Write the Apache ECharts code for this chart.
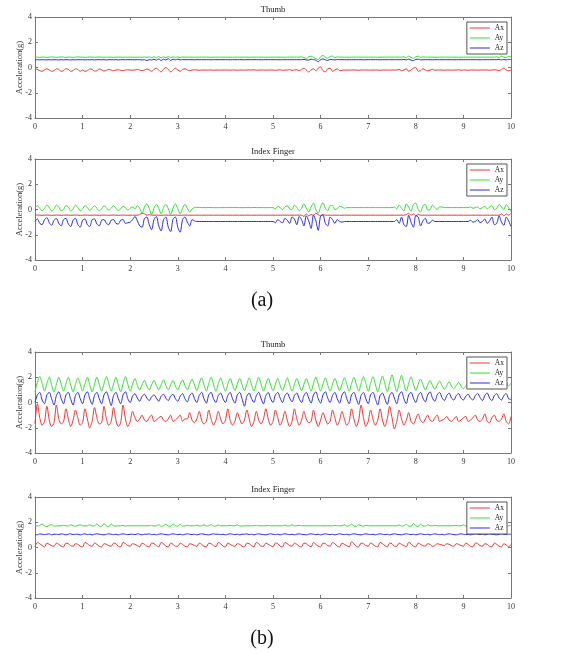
<!DOCTYPE html>
<html>
<head>
<meta charset="utf-8">
<script src="https://cdn.jsdelivr.net/npm/echarts@6/dist/echarts.min.js"></script>
<style>
  html, body { margin: 0; padding: 0; background: #fff; }
  #main { width: 577px; height: 654px; }
</style>
</head>
<body>
<div id="main"></div>
<script>
// sampling step of the recordings (s)
var step = 0.05;
var names = ['Ax', 'Ay', 'Az'];
var panelTitles = ['Thumb', 'Index Finger', 'Thumb', 'Index Finger'];
var figLabels = ['(a)', '(b)'];
var yTicks = [-4, 4, 2];   // min, max, interval
var xTicks = [0, 10, 1];

// (a) thumb
var aThumbAx = [
  -0.1,-0.15,-0.25,-0.3,-0.2,-0.1,-0.2,-0.3,-0.25,-0.1,-0.15,-0.3,-0.25,-0.1,-0.15,-0.3,-0.25,-0.1,-0.15,-0.3,
  -0.2,-0.3,-0.25,-0.12,-0.15,-0.28,-0.25,-0.12,-0.18,-0.28,-0.22,-0.15,-0.2,-0.25,-0.2,-0.18,-0.22,-0.25,-0.2,-0.18,
  -0.2,-0.22,-0.2,-0.15,-0.2,-0.25,-0.2,-0.12,-0.2,-0.3,-0.15,-0.05,-0.2,-0.35,-0.15,0.0,-0.15,-0.35,-0.2,-0.05,
  -0.2,-0.3,-0.15,-0.1,-0.2,-0.25,-0.2,-0.18,-0.2,-0.22,-0.2,-0.2,-0.21,-0.2,-0.2,-0.22,-0.2,-0.2,-0.21,-0.2,
  -0.2,-0.2,-0.21,-0.2,-0.2,-0.22,-0.2,-0.2,-0.21,-0.2,-0.2,-0.2,-0.18,-0.22,-0.2,-0.2,-0.2,-0.21,-0.2,-0.2,
  -0.2,-0.22,-0.2,-0.18,-0.22,-0.2,-0.2,-0.17,-0.23,-0.2,-0.18,-0.25,-0.15,-0.05,-0.2,-0.35,-0.2,-0.1,-0.25,-0.05,
  0.05,-0.25,-0.35,-0.1,-0.05,-0.3,-0.2,-0.1,-0.25,-0.22,-0.2,-0.2,-0.21,-0.2,-0.2,-0.2,-0.22,-0.2,-0.2,-0.2,
  -0.2,-0.21,-0.2,-0.2,-0.2,-0.22,-0.2,-0.2,-0.2,-0.21,-0.2,-0.2,-0.2,-0.15,-0.25,-0.2,-0.1,-0.3,-0.2,-0.05,
  0.0,-0.3,-0.25,-0.1,-0.2,-0.25,-0.2,-0.15,-0.22,-0.2,-0.2,-0.2,-0.22,-0.2,-0.2,-0.21,-0.2,-0.2,-0.18,-0.22,
  -0.2,-0.2,-0.22,-0.2,-0.2,-0.2,-0.21,-0.2,-0.2,-0.2,-0.2,-0.22,-0.2,-0.18,-0.2,-0.25,-0.15,-0.05,-0.2,-0.25,
  -0.2
];
var aThumbAy = [
  0.85,0.82,0.8,0.83,0.82,0.8,0.82,0.84,0.82,0.8,0.82,0.84,0.82,0.8,0.83,0.82,0.8,0.82,0.84,0.82,
  0.82,0.8,0.82,0.83,0.82,0.81,0.82,0.83,0.82,0.81,0.82,0.82,0.82,0.81,0.82,0.82,0.82,0.81,0.82,0.82,
  0.82,0.82,0.81,0.82,0.82,0.8,0.84,0.8,0.84,0.78,0.85,0.78,0.86,0.76,0.85,0.78,0.86,0.78,0.84,0.8,
  0.84,0.78,0.83,0.82,0.82,0.82,0.82,0.81,0.82,0.82,0.82,0.82,0.82,0.82,0.81,0.82,0.82,0.82,0.82,0.82,
  0.82,0.82,0.82,0.81,0.82,0.82,0.82,0.82,0.82,0.82,0.81,0.82,0.82,0.82,0.82,0.82,0.82,0.81,0.82,0.82,
  0.82,0.82,0.82,0.82,0.82,0.81,0.82,0.82,0.82,0.82,0.82,0.82,0.84,0.78,0.72,0.85,0.9,0.8,0.7,0.62,
  0.85,0.95,0.82,0.72,0.88,0.9,0.78,0.84,0.82,0.82,0.82,0.82,0.81,0.82,0.82,0.82,0.82,0.82,0.82,0.82,
  0.82,0.82,0.82,0.82,0.81,0.82,0.82,0.82,0.82,0.82,0.82,0.82,0.82,0.82,0.82,0.85,0.78,0.9,0.8,0.72,
  0.85,0.9,0.8,0.84,0.82,0.82,0.82,0.82,0.82,0.81,0.82,0.82,0.82,0.82,0.82,0.82,0.82,0.82,0.81,0.82,
  0.82,0.82,0.82,0.82,0.82,0.82,0.82,0.82,0.82,0.82,0.82,0.82,0.82,0.82,0.85,0.78,0.9,0.82,0.78,0.88,
  0.84
];
var aThumbAz = [
  0.6,0.62,0.6,0.62,0.61,0.6,0.62,0.6,0.62,0.61,0.6,0.62,0.6,0.62,0.61,0.6,0.62,0.6,0.62,0.61,
  0.62,0.6,0.62,0.61,0.62,0.6,0.62,0.62,0.61,0.62,0.6,0.62,0.62,0.61,0.62,0.6,0.62,0.62,0.61,0.62,
  0.62,0.62,0.61,0.62,0.62,0.6,0.62,0.55,0.62,0.6,0.65,0.58,0.68,0.55,0.66,0.6,0.7,0.56,0.65,0.6,
  0.66,0.6,0.63,0.62,0.62,0.62,0.62,0.61,0.62,0.62,0.62,0.62,0.62,0.62,0.61,0.62,0.62,0.62,0.62,0.62,
  0.62,0.62,0.61,0.62,0.62,0.62,0.62,0.62,0.61,0.62,0.62,0.62,0.62,0.62,0.62,0.61,0.62,0.62,0.62,0.62,
  0.62,0.62,0.62,0.61,0.62,0.62,0.62,0.62,0.62,0.62,0.62,0.62,0.62,0.64,0.6,0.58,0.66,0.62,0.58,0.45,
  0.62,0.68,0.6,0.56,0.64,0.62,0.6,0.63,0.62,0.62,0.62,0.61,0.62,0.62,0.62,0.62,0.62,0.62,0.61,0.62,
  0.62,0.62,0.62,0.62,0.62,0.61,0.62,0.62,0.62,0.62,0.62,0.62,0.62,0.62,0.62,0.64,0.6,0.66,0.58,0.55,
  0.64,0.66,0.6,0.62,0.62,0.62,0.62,0.61,0.62,0.62,0.62,0.62,0.62,0.62,0.62,0.62,0.61,0.62,0.62,0.62,
  0.62,0.62,0.62,0.62,0.62,0.62,0.62,0.61,0.62,0.62,0.62,0.62,0.62,0.62,0.62,0.64,0.6,0.63,0.6,0.64,
  0.62
];

// (a) index finger
var aIndexAx = [
  -0.45,-0.44,-0.45,-0.46,-0.45,-0.44,-0.45,-0.46,-0.45,-0.44,-0.45,-0.46,-0.45,-0.44,-0.45,-0.46,-0.45,-0.44,-0.45,-0.46,
  -0.45,-0.44,-0.45,-0.46,-0.45,-0.44,-0.45,-0.46,-0.45,-0.44,-0.45,-0.46,-0.45,-0.44,-0.45,-0.46,-0.45,-0.44,-0.45,-0.46,
  -0.45,-0.45,-0.45,-0.45,-0.4,-0.3,-0.35,-0.45,-0.4,-0.45,-0.45,-0.44,-0.45,-0.46,-0.45,-0.44,-0.45,-0.46,-0.45,-0.44,
  -0.45,-0.46,-0.45,-0.44,-0.45,-0.45,-0.45,-0.45,-0.45,-0.45,-0.45,-0.45,-0.45,-0.45,-0.45,-0.45,-0.45,-0.45,-0.45,-0.45,
  -0.45,-0.45,-0.45,-0.45,-0.45,-0.45,-0.45,-0.45,-0.45,-0.45,-0.45,-0.45,-0.45,-0.45,-0.45,-0.45,-0.45,-0.45,-0.45,-0.45,
  -0.45,-0.45,-0.45,-0.45,-0.45,-0.45,-0.45,-0.45,-0.45,-0.45,-0.45,-0.44,-0.45,-0.55,-0.35,-0.5,-0.4,-0.45,-0.3,-0.4,
  -0.5,-0.4,-0.45,-0.45,-0.45,-0.45,-0.45,-0.45,-0.45,-0.45,-0.45,-0.45,-0.45,-0.45,-0.45,-0.45,-0.45,-0.45,-0.45,-0.45,
  -0.45,-0.45,-0.45,-0.45,-0.45,-0.45,-0.45,-0.45,-0.45,-0.45,-0.45,-0.45,-0.45,-0.45,-0.45,-0.45,-0.4,-0.3,-0.45,-0.35,
  -0.5,-0.4,-0.45,-0.45,-0.45,-0.45,-0.45,-0.45,-0.45,-0.45,-0.45,-0.45,-0.45,-0.45,-0.45,-0.45,-0.45,-0.45,-0.45,-0.45,
  -0.45,-0.45,-0.45,-0.45,-0.45,-0.45,-0.45,-0.45,-0.45,-0.45,-0.45,-0.45,-0.45,-0.45,-0.45,-0.45,-0.35,-0.5,-0.35,-0.45,
  -0.3
];
var aIndexAy = [
  0.15,0.3,0.1,-0.1,0.1,0.35,0.15,-0.12,0.05,0.35,0.2,-0.1,0.0,0.3,0.2,-0.12,0.05,0.35,0.15,-0.1,
  0.05,0.3,0.15,-0.08,0.1,0.3,0.1,-0.1,0.05,0.28,0.15,-0.05,0.1,0.3,0.1,-0.08,0.05,0.25,0.15,-0.05,
  0.1,0.2,0.05,0.3,0.1,-0.3,0.2,0.45,0.1,-0.4,0.1,0.4,0.1,-0.35,0.15,0.4,0.05,-0.4,0.1,0.45,
  0.05,-0.35,0.1,0.4,0.1,-0.2,0.05,0.15,0.18,0.15,0.15,0.15,0.15,0.16,0.15,0.15,0.14,0.15,0.15,0.15,
  0.15,0.15,0.15,0.16,0.15,0.15,0.15,0.14,0.15,0.15,0.15,0.15,0.16,0.15,0.15,0.15,0.15,0.14,0.15,0.15,
  0.15,0.05,0.25,0.15,0.0,0.2,0.3,0.05,0.0,0.35,0.15,-0.1,0.1,0.45,0.1,-0.2,0.2,0.5,0.0,-0.3,
  0.2,0.55,0.1,-0.1,0.3,0.3,0.0,0.05,0.25,0.2,0.1,0.15,0.15,0.15,0.15,0.15,0.15,0.15,0.15,0.15,
  0.15,0.15,0.15,0.15,0.15,0.15,0.15,0.15,0.15,0.15,0.15,0.2,0.05,0.35,0.1,-0.1,0.45,0.2,-0.15,0.4,
  0.5,0.0,-0.2,0.3,0.4,-0.05,0.0,0.35,0.15,0.0,0.2,0.2,0.15,0.15,0.15,0.15,0.15,0.15,0.15,0.15,
  0.15,0.15,0.15,0.2,0.1,0.15,0.2,0.05,0.15,0.25,0.05,0.2,0.3,0.0,0.1,0.4,0.2,0.0,0.4,0.15,
  -0.2
];
var aIndexAz = [
  -0.95,-0.75,-1.1,-1.2,-0.8,-0.65,-1.05,-1.25,-0.85,-0.7,-1.1,-1.3,-0.8,-0.7,-1.15,-1.35,-0.85,-0.7,-1.2,-1.4,
  -0.85,-0.75,-1.2,-1.35,-0.8,-0.75,-1.15,-1.3,-0.85,-0.8,-1.1,-1.2,-0.85,-0.8,-1.1,-1.15,-0.85,-0.8,-1.1,-1.05,
  -1.0,-0.8,-0.55,-0.9,-1.3,-1.4,-0.7,-0.6,-1.2,-1.6,-0.8,-0.55,-1.3,-1.7,-0.8,-0.6,-1.4,-1.75,-0.75,-0.6,
  -1.4,-1.8,-0.8,-0.6,-1.0,-1.3,-0.8,-0.9,-0.95,-0.95,-0.95,-0.95,-0.95,-0.95,-0.95,-0.95,-0.95,-0.95,-0.95,-0.95,
  -0.95,-0.95,-0.95,-0.95,-0.95,-0.95,-0.95,-0.95,-0.95,-0.95,-0.95,-0.95,-0.95,-0.95,-0.95,-0.95,-0.95,-0.95,-0.95,-0.95,
  -0.95,-1.05,-0.8,-0.95,-1.05,-0.7,-0.85,-1.1,-0.6,-0.75,-1.2,-0.55,-0.8,-1.3,-0.5,-0.9,-1.5,-0.45,-0.9,-1.65,
  -0.5,-0.45,-1.1,-1.3,-0.6,-0.8,-1.1,-0.8,-0.95,-1.0,-0.95,-0.95,-0.95,-0.95,-0.95,-0.95,-0.95,-0.95,-0.95,-0.95,
  -0.95,-0.95,-0.95,-0.95,-0.95,-0.95,-0.95,-0.95,-0.95,-0.95,-0.95,-0.95,-0.8,-1.1,-0.6,-1.2,-1.35,-0.45,-1.0,-1.4,
  -0.5,-0.6,-1.3,-0.9,-0.7,-1.1,-1.05,-0.85,-0.95,-0.95,-0.95,-0.95,-0.95,-0.95,-0.95,-0.95,-0.95,-0.95,-0.95,-0.95,
  -0.95,-0.95,-0.95,-0.85,-1.0,-0.95,-0.8,-1.05,-0.95,-0.75,-1.1,-0.9,-0.6,-1.2,-1.1,-0.5,-1.0,-1.25,-0.6,-0.9,
  -1.35
];

// (b) thumb
var bThumbAx = [
  -1.7,-0.1,-1.2,-1.8,-1.5,-0.3,-1.4,-1.9,-1.6,-0.2,-1.3,-1.7,-1.5,-0.5,-1.3,-1.9,-1.4,-0.6,-1.2,-1.8,
  -1.6,-0.5,-1.3,-2.0,-1.5,-0.4,-1.2,-1.7,-1.6,-0.3,-1.3,-1.8,-1.5,-0.4,-1.4,-1.9,-1.6,-0.2,-1.3,-1.9,
  -1.5,-0.7,-1.2,-1.5,-1.3,-1.0,-1.4,-1.5,-1.2,-1.0,-1.5,-1.4,-1.2,-1.1,-1.4,-1.5,-1.3,-1.0,-1.5,-1.4,
  -1.2,-1.0,-1.5,-1.3,-1.3,-0.8,-1.4,-1.6,-1.3,-0.7,-1.4,-1.7,-1.5,-0.6,-1.3,-1.8,-1.4,-0.7,-1.3,-1.7,
  -1.4,-0.5,-1.4,-1.8,-1.5,-0.8,-1.3,-1.7,-1.4,-0.6,-1.3,-1.9,-1.5,-0.7,-1.4,-1.7,-1.3,-0.5,-1.3,-1.8,
  -1.5,-0.6,-1.2,-1.8,-1.4,-0.7,-1.4,-1.9,-1.5,-0.5,-1.3,-1.8,-1.4,-0.7,-1.3,-1.6,-1.5,-0.6,-1.4,-1.9,
  -1.4,-0.8,-1.3,-1.7,-1.5,-0.6,-1.2,-1.8,-1.4,-0.7,-1.3,-1.8,-1.5,-0.5,-1.3,-1.9,-1.4,-0.2,-1.2,-1.9,
  -1.5,-0.6,-1.3,-1.8,-1.4,-0.5,-1.4,-1.9,-1.3,-0.3,-1.2,-2.1,-1.5,-0.6,-1.3,-1.8,-1.4,-0.8,-1.5,-1.7,
  -1.3,-0.9,-1.4,-1.6,-1.3,-1.0,-1.4,-1.5,-1.2,-1.0,-1.5,-1.4,-1.3,-1.1,-1.4,-1.5,-1.3,-1.1,-1.5,-1.4,
  -1.2,-1.1,-1.5,-1.4,-1.2,-1.0,-1.4,-1.5,-1.3,-0.9,-1.5,-1.6,-1.2,-1.0,-1.4,-1.5,-1.3,-0.9,-1.5,-1.7,
  -1.1
];
var bThumbAy = [
  0.85,1.6,2.05,1.5,0.9,1.5,2.0,1.4,0.85,1.45,2.0,1.45,0.9,1.5,2.0,1.4,0.85,1.45,1.95,1.45,
  0.9,1.5,2.0,1.4,0.85,1.45,2.0,1.45,0.9,1.5,2.05,1.5,0.9,1.45,2.0,1.4,0.85,1.5,2.05,1.45,
  0.9,1.45,1.9,1.35,1.0,1.4,1.75,1.3,1.0,1.4,1.75,1.35,1.0,1.4,1.8,1.35,1.0,1.4,1.75,1.3,
  1.0,1.45,1.8,1.35,1.0,1.45,1.85,1.4,0.95,1.5,1.95,1.4,0.9,1.5,2.0,1.45,0.9,1.45,1.95,1.4,
  0.9,1.45,1.9,1.4,0.95,1.45,1.9,1.4,0.95,1.45,1.95,1.4,0.9,1.5,2.0,1.45,0.9,1.45,1.9,1.4,
  0.95,1.45,1.9,1.35,0.95,1.45,1.95,1.4,0.9,1.45,1.9,1.4,0.95,1.45,1.9,1.4,0.9,1.5,2.0,1.45,
  0.9,1.45,1.95,1.4,0.9,1.45,1.9,1.4,0.95,1.45,1.95,1.45,0.9,1.5,2.0,1.45,0.9,1.5,2.05,1.5,
  0.9,1.5,2.05,1.45,0.85,1.5,2.1,1.5,0.85,1.55,2.2,1.5,0.85,1.55,2.15,1.5,0.9,1.5,2.05,1.45,
  0.95,1.45,1.85,1.4,1.0,1.4,1.75,1.35,1.05,1.4,1.7,1.35,1.05,1.35,1.65,1.3,1.1,1.35,1.6,1.3,
  1.1,1.3,1.5,1.3,1.15,1.35,1.6,1.3,1.1,1.4,1.7,1.35,1.05,1.4,1.75,1.35,1.05,1.4,1.6,1.3,
  1.55
];
var bThumbAz = [
  0.0,0.6,0.8,0.2,-0.1,0.6,0.8,0.3,-0.2,0.55,0.85,0.3,-0.1,0.6,0.8,0.25,-0.2,0.55,0.8,0.3,
  -0.1,0.6,0.85,0.3,-0.15,0.55,0.8,0.3,-0.1,0.6,0.85,0.35,-0.25,0.55,0.8,0.3,-0.1,0.6,0.85,0.3,
  0.0,0.5,0.7,0.35,0.1,0.5,0.65,0.35,0.15,0.45,0.6,0.35,0.1,0.5,0.65,0.35,0.15,0.5,0.65,0.3,
  0.1,0.5,0.7,0.3,0.05,0.55,0.75,0.3,0.0,0.55,0.8,0.3,-0.05,0.6,0.8,0.3,0.0,0.55,0.75,0.3,
  0.0,0.55,0.8,0.3,-0.05,0.6,0.8,0.3,-0.3,0.5,0.75,0.3,0.0,0.55,0.8,0.3,-0.1,0.55,0.8,0.3,
  0.0,0.6,0.8,0.35,0.0,0.55,0.75,0.35,0.05,0.55,0.75,0.3,0.0,0.55,0.8,0.35,-0.05,0.6,0.85,0.3,
  -0.05,0.6,0.85,0.35,0.0,0.55,0.8,0.3,-0.05,0.6,0.85,0.3,-0.1,0.6,0.8,0.3,-0.15,0.55,0.8,0.3,
  -0.1,0.6,0.8,0.3,-0.2,0.55,0.75,0.3,-0.15,0.55,0.8,0.35,-0.1,0.6,0.85,0.3,-0.1,0.6,0.8,0.35,
  0.0,0.55,0.8,0.35,0.05,0.6,0.85,0.35,0.1,0.6,0.8,0.4,0.15,0.55,0.75,0.35,0.2,0.55,0.7,0.35,
  0.2,0.5,0.65,0.35,0.2,0.55,0.7,0.4,0.15,0.55,0.75,0.35,0.15,0.55,0.7,0.35,0.2,0.55,0.7,0.3,
  0.25
];

// (b) index finger
var bIndexAx = [
  0.05,0.4,0.3,0.15,0.05,0.35,0.25,0.15,0.1,0.35,0.25,0.1,0.05,0.35,0.3,0.15,0.1,0.3,0.25,0.1,
  0.05,0.4,0.3,0.15,0.1,0.35,0.25,0.1,0.05,0.3,0.25,0.15,0.1,0.35,0.3,0.1,0.05,0.4,0.3,0.15,
  0.1,0.3,0.25,0.15,0.05,0.35,0.25,0.1,0.05,0.35,0.3,0.15,0.05,0.4,0.3,0.1,0.05,0.35,0.25,0.1,
  0.1,0.35,0.25,0.1,0.05,0.3,0.25,0.15,0.1,0.35,0.25,0.1,0.05,0.35,0.3,0.15,0.05,0.4,0.3,0.1,
  0.05,0.35,0.25,0.15,0.1,0.3,0.25,0.1,0.05,0.35,0.3,0.15,0.05,0.4,0.3,0.1,0.1,0.35,0.25,0.15,
  0.05,0.35,0.3,0.1,0.05,0.4,0.3,0.15,0.1,0.35,0.25,0.1,0.05,0.35,0.3,0.15,0.05,0.4,0.25,0.1,
  0.05,0.35,0.3,0.15,0.1,0.4,0.3,0.1,0.05,0.35,0.25,0.15,0.05,0.45,0.3,0.1,0.05,0.35,0.3,0.15,
  0.1,0.35,0.25,0.1,0.05,0.4,0.3,0.15,0.05,0.35,0.3,0.1,0.1,0.35,0.25,0.15,0.05,0.4,0.3,0.1,
  0.05,0.35,0.25,0.15,0.1,0.3,0.25,0.1,0.15,0.3,0.25,0.2,0.15,0.3,0.25,0.15,0.1,0.3,0.25,0.15,
  0.1,0.35,0.25,0.1,0.05,0.35,0.3,0.15,0.1,0.3,0.25,0.1,0.05,0.35,0.25,0.1,0.05,0.3,0.2,0.05,
  0.25
];
var bIndexAy = [
  1.75,1.7,1.75,1.85,1.72,1.65,1.75,1.82,1.7,1.7,1.72,1.72,1.75,1.72,1.7,1.8,1.72,1.68,1.75,1.8,
  1.72,1.72,1.72,1.8,1.7,1.72,1.85,1.7,1.68,1.9,1.72,1.66,1.85,1.72,1.7,1.72,1.72,1.75,1.7,1.72,
  1.72,1.72,1.72,1.72,1.72,1.72,1.72,1.72,1.72,1.75,1.7,1.72,1.8,1.68,1.72,1.85,1.7,1.68,1.88,1.72,
  1.68,1.85,1.7,1.7,1.75,1.72,1.72,1.72,1.78,1.7,1.72,1.8,1.7,1.72,1.82,1.7,1.7,1.78,1.72,1.72,
  1.72,1.72,1.75,1.72,1.72,1.8,1.7,1.7,1.72,1.72,1.72,1.72,1.72,1.75,1.72,1.72,1.72,1.72,1.75,1.72,
  1.72,1.72,1.72,1.72,1.72,1.78,1.7,1.72,1.8,1.72,1.72,1.75,1.72,1.72,1.72,1.72,1.72,1.72,1.72,1.72,
  1.72,1.72,1.72,1.72,1.72,1.72,1.75,1.72,1.72,1.72,1.8,1.7,1.72,1.85,1.7,1.68,1.8,1.72,1.7,1.75,
  1.72,1.72,1.72,1.72,1.72,1.72,1.72,1.72,1.72,1.72,1.72,1.72,1.72,1.78,1.7,1.72,1.85,1.7,1.68,1.9,
  1.72,1.66,1.85,1.72,1.7,1.8,1.72,1.72,1.75,1.72,1.72,1.72,1.72,1.72,1.72,1.72,1.72,1.75,1.72,1.72,
  1.8,1.7,1.72,1.72,1.72,1.72,1.72,1.72,1.72,1.72,1.72,1.72,1.72,1.72,1.72,1.72,1.72,1.72,1.72,1.72,
  1.75
];
var bIndexAz = [
  1.05,1.0,1.08,1.05,1.02,1.05,1.08,1.0,1.05,1.05,1.02,1.08,1.05,1.0,1.05,1.08,1.02,1.05,1.05,1.0,
  1.05,1.08,1.02,1.05,1.0,1.05,1.08,1.05,1.02,1.0,1.05,1.08,1.05,1.02,1.05,1.0,1.05,1.08,1.05,1.02,
  1.05,1.05,1.02,1.08,1.05,1.0,1.05,1.05,1.08,1.02,1.05,1.0,1.05,1.08,1.05,1.02,1.0,1.05,1.08,1.05,
  1.02,1.05,1.0,1.05,1.08,1.05,1.02,1.05,1.0,1.05,1.08,1.05,1.02,1.0,1.05,1.08,1.05,1.05,1.02,1.05,
  1.0,1.05,1.08,1.05,1.02,1.05,1.0,1.05,1.05,1.08,1.02,1.05,1.0,1.05,1.08,1.05,1.02,1.0,1.05,1.08,
  1.05,1.02,1.05,1.0,1.05,1.08,1.05,1.02,1.05,1.0,1.05,1.08,1.05,1.02,1.0,1.05,1.08,1.05,1.02,1.05,
  1.0,1.05,1.08,1.05,1.02,1.05,1.0,1.05,1.08,1.05,1.02,1.05,1.0,1.05,1.08,1.05,1.02,1.0,1.05,1.08,
  1.05,1.02,1.05,1.0,1.05,1.08,1.05,1.02,1.05,1.0,1.05,1.08,1.05,1.02,1.0,1.05,1.08,1.05,1.02,1.05,
  1.0,1.05,1.08,1.05,1.02,1.05,1.0,1.05,1.08,1.05,1.02,1.05,1.0,1.05,1.08,1.05,1.02,1.0,1.05,1.08,
  1.05,1.02,1.05,1.0,1.05,1.08,1.05,1.02,1.05,1.0,1.05,1.08,1.05,1.02,1.0,1.05,1.08,1.05,1.02,1.05,
  1.05
];

var panels = [
  [aThumbAx, aThumbAy, aThumbAz],
  [aIndexAx, aIndexAy, aIndexAz],
  [bThumbAx, bThumbAy, bThumbAz],
  [bIndexAx, bIndexAy, bIndexAz]
];

var font = "'Liberation Serif', 'DejaVu Serif', serif";
var colors = ['#ee3434', '#2fe02f', '#2a2ae0'];
var axisColor = '#777';
var gridTops = [17, 159, 352, 497];
var gridH = 101;

function toPoints(vals) {
  return vals.map(function (v, i) {
    return [+(i * step).toFixed(2), v];
  });
}

function makeAxis(extra) {
  var ax = {
    type: 'value',
    axisLine: { show: true, onZero: false, lineStyle: { color: axisColor, width: 1 } },
    axisTick: { show: true, inside: true, length: 3, lineStyle: { color: axisColor } },
    splitLine: { show: false },
    axisLabel: { fontFamily: font, fontSize: 8, color: '#333', margin: 5 }
  };
  for (var k in extra) ax[k] = extra[k];
  return ax;
}

var grids = [], xAxes = [], yAxes = [], series = [], legends = [], titles = [];

panels.forEach(function (p, k) {
  grids.push({ left: 35, right: 66, top: gridTops[k], height: gridH, outerBoundsMode: 'none' });

  xAxes.push(makeAxis({ gridIndex: k, min: xTicks[0], max: xTicks[1], interval: xTicks[2] }));
  xAxes.push(makeAxis({ gridIndex: k, position: 'top', min: xTicks[0], max: xTicks[1], interval: xTicks[2],
    axisLabel: { show: false } }));

  yAxes.push(makeAxis({ gridIndex: k, min: yTicks[0], max: yTicks[1], interval: yTicks[2],
    axisLabel: { fontFamily: font, fontSize: 8, color: '#333', margin: 3 },
    name: 'Acceleration(g)', nameLocation: 'middle', nameGap: 11, nameRotate: 90,
    nameMoveOverlap: false,
    nameTextStyle: { fontFamily: font, fontSize: 8.5, color: '#333' } }));
  yAxes.push(makeAxis({ gridIndex: k, position: 'right', min: yTicks[0], max: yTicks[1], interval: yTicks[2],
    axisLabel: { show: false } }));

  p.forEach(function (vals, j) {
    series.push({
      type: 'line',
      name: names[j],
      xAxisIndex: 2 * k,
      yAxisIndex: 2 * k,
      data: toPoints(vals),
      symbol: 'none',
      smooth: 0.3,
      lineStyle: { width: 1, color: colors[j] },
      itemStyle: { color: colors[j] }
    });
  });

  legends.push({
    orient: 'vertical',
    right: 70,
    top: gridTops[k] + 5,
    data: names,
    z: 10,
    icon: 'rect',
    itemWidth: 20,
    itemHeight: 1,
    itemGap: 2,
    padding: [2, 3, 2, 3],
    borderColor: '#555',
    borderWidth: 1,
    backgroundColor: '#fff',
    selectedMode: false,
    textStyle: { fontFamily: font, fontSize: 7.5, color: '#222' }
  });

  titles.push({
    text: panelTitles[k],
    left: 273,
    top: gridTops[k] - 12,
    textAlign: 'center',
    padding: 0,
    textStyle: { fontFamily: font, fontSize: 8.5, fontWeight: 'normal', color: '#222' }
  });
});

titles.push({ text: figLabels[0], left: 262, top: 291, textAlign: 'center', padding: 0,
  textStyle: { fontFamily: font, fontSize: 20, fontWeight: 'normal', color: '#111' } });
titles.push({ text: figLabels[1], left: 262, top: 629, textAlign: 'center', padding: 0,
  textStyle: { fontFamily: font, fontSize: 20, fontWeight: 'normal', color: '#111' } });

var chart = echarts.init(document.getElementById('main'));
chart.setOption({
  animation: false,
  backgroundColor: '#fff',
  title: titles,
  legend: legends,
  grid: grids,
  xAxis: xAxes,
  yAxis: yAxes,
  series: series
});
</script>
</body>
</html>
